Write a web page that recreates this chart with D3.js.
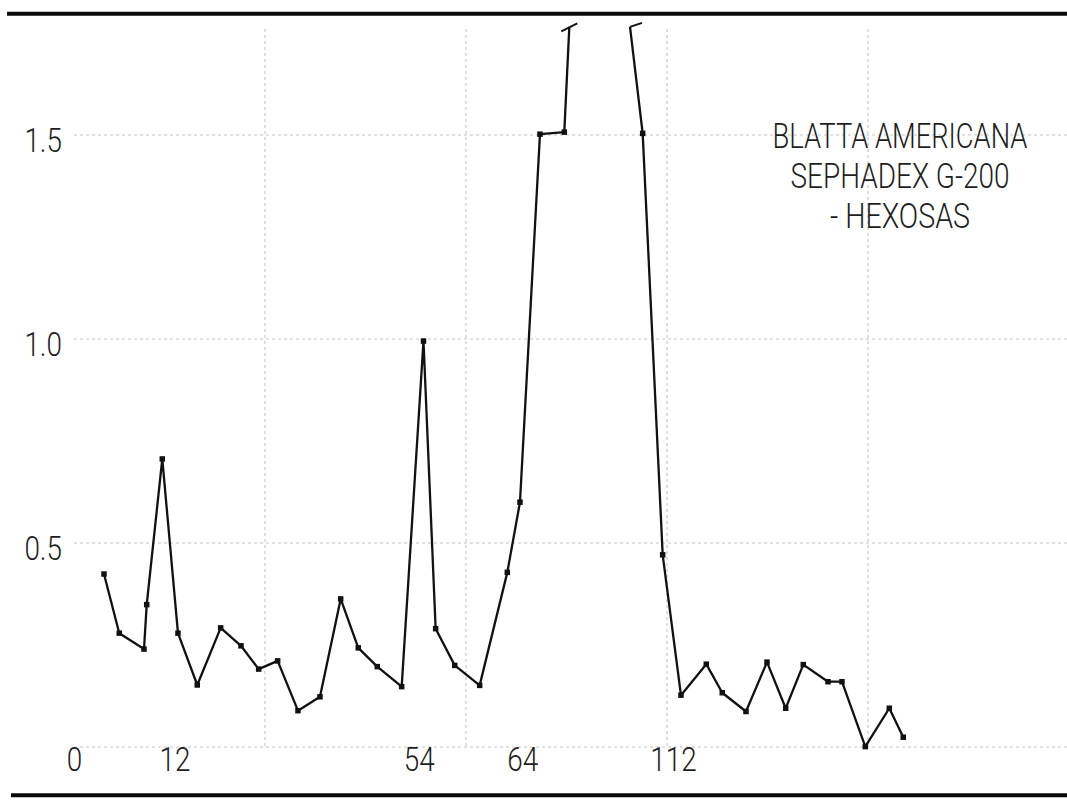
<!DOCTYPE html>
<html>
<head>
<meta charset="utf-8">
<script src="https://cdn.jsdelivr.net/npm/d3@7"></script>
<style>
  html, body { margin: 0; padding: 0; background: #fff; }
  svg { display: block; }
  text { font-family: Roboto, "Liberation Sans", sans-serif; font-weight: 300; fill: #1e1e1e; }
</style>
</head>
<body>
<svg id="chart" width="1067" height="803"></svg>
<script>
// ---------- data ----------
// elution position (arbitrary units along the x axis)
const elution = [3.98, 5.50, 7.96, 8.23, 9.78, 11.34, 13.26, 15.59, 17.61, 19.37,
  21.26, 23.28, 25.47, 27.53, 29.28, 31.17, 33.60, 35.77, 36.98, 38.88,
  41.36, 44.11, 45.37, 47.36, 49.78, 50.28, 56.32, 57.58, 59.57, 61.39,
  63.91, 65.50, 67.86, 69.95, 71.81, 73.56, 76.02, 77.41, 79.73, 82.12, 83.51];
// hexoses absorbance
const hexosas = [0.424, 0.279, 0.240, 0.349, 0.706, 0.279, 0.152, 0.292, 0.248, 0.191,
  0.211, 0.089, 0.123, 0.363, 0.243, 0.197, 0.148, 0.995, 0.290, 0.200,
  0.151, 0.428, 0.600, 1.502, 1.507, 1.765, 1.765, 1.504, 0.471, 0.127,
  0.203, 0.133, 0.087, 0.208, 0.095, 0.202, 0.160, 0.160, 0.001, 0.095, 0.024];
// indices of the off-scale break ends (line interrupted between them)
const breakEnds = [25, 26];

const yTicks = [0.5, 1.0, 1.5];
const xTickPositions = [1.0, 11.0, 35.3, 45.6, 60.6];
const xTickLabels = ["0", "12", "54", "64", "112"];
const gridX = [20, 40, 60, 80];
const gridY = [0, 0.5, 1.0, 1.5];
const titleLines = ["BLATTA AMERICANA", "SEPHADEX G-200", "- HEXOSAS"];
const titleWidths = [255, 219, 140];

// ---------- layout ----------
const svg = d3.select("#chart");
const x = d3.scaleLinear().domain([0, 100]).range([64, 1069]);
const y = d3.scaleLinear().domain([0, 1.5]).range([747, 135]);
const squeeze = 0.82;
const fontFam = "Roboto, 'Liberation Sans', sans-serif";

const pts = elution.map((e, i) => ({ x: e, v: hexosas[i], i }));

// gridlines
const grid = svg.append("g").attr("stroke", "#c4c4c4").attr("stroke-width", 1.1)
  .attr("stroke-dasharray", "3,3").attr("fill", "none");
grid.selectAll("line.h").data(gridY).join("line").attr("class", "h")
  .attr("x1", x(1.0)).attr("x2", x(100)).attr("y1", d => y(d)).attr("y2", d => y(d));
grid.selectAll("line.v").data(gridX).join("line").attr("class", "v")
  .attr("x1", d => x(d)).attr("x2", d => x(d)).attr("y1", y(1.76)).attr("y2", y(0));

// frame lines (top & bottom)
const frame = svg.append("g").attr("stroke", "#0a0a0a").attr("stroke-width", 4);
frame.append("line").attr("x1", 7).attr("x2", 1067).attr("y1", y(1.797)).attr("y2", y(1.797));
frame.append("line").attr("x1", 11).attr("x2", 1067).attr("y1", y(-0.118)).attr("y2", y(-0.118));

// y axis labels
const yAxis = d3.axisLeft(y).tickValues(yTicks).tickFormat(d3.format(".1f")).tickSize(0).tickPadding(0);
const gy = svg.append("g").attr("transform", "translate(62,0)").call(yAxis);
gy.select(".domain").remove();
gy.attr("font-family", null).attr("font-size", null);
gy.selectAll("text").attr("x", 0).attr("dy", "0.49em").attr("transform", `scale(${squeeze},1)`)
  .style("font-size", "34px").style("font-family", fontFam).style("font-weight", 300).attr("fill", "#1e1e1e");

// x axis labels
const xAxis = d3.axisBottom(x).tickValues(xTickPositions)
  .tickFormat((d, i) => xTickLabels[i]).tickSize(0).tickPadding(0);
const gx = svg.append("g").attr("transform", `translate(0,${y(0)})`).call(xAxis);
gx.select(".domain").remove();
gx.attr("font-family", null).attr("font-size", null);
gx.selectAll("text").attr("y", 0).attr("dy", "0.72em").attr("transform", `scale(${squeeze},1)`)
  .style("font-size", "34px").style("font-family", fontFam).style("font-weight", 300).attr("fill", "#1e1e1e");

// series line (interrupted at the off-scale break)
const line = d3.line().x(d => x(d.x)).y(d => y(d.v));
const seg1 = pts.slice(0, breakEnds[0] + 1);
const seg2 = pts.slice(breakEnds[1]);
svg.selectAll("path.series").data([seg1, seg2]).join("path").attr("class", "series")
  .attr("d", line).attr("fill", "none").attr("stroke", "#111")
  .attr("stroke-width", 2.3).attr("stroke-linejoin", "round");

// break marks
const bl = pts[breakEnds[0]], br = pts[breakEnds[1]];
svg.append("line").attr("x1", x(bl.x) - 8).attr("y1", y(bl.v) + 4.5)
  .attr("x2", x(bl.x) + 8).attr("y2", y(bl.v) - 3.5)
  .attr("stroke", "#111").attr("stroke-width", 2);
svg.append("line").attr("x1", x(br.x)).attr("y1", y(br.v))
  .attr("x2", x(br.x) + 12).attr("y2", y(br.v) - 4)
  .attr("stroke", "#111").attr("stroke-width", 2);

// markers
const ms = 5.5;
svg.selectAll("rect.pt").data(pts.filter(d => !breakEnds.includes(d.i))).join("rect")
  .attr("class", "pt")
  .attr("x", d => x(d.x) - ms / 2).attr("y", d => y(d.v) - ms / 2)
  .attr("width", ms).attr("height", ms).attr("fill", "#111");

// annotation text (horizontally condensed to match the original lettering)
const notes = svg.selectAll("g.note").data(titleLines).join("g").attr("class", "note");
notes.append("text").attr("x", 0).attr("y", 0).attr("text-anchor", "middle")
  .style("font-size", "35px").text(d => d);
notes.attr("transform", function (d, i) {
  const w = this.querySelector("text").getComputedTextLength() || titleWidths[i];
  const sx = titleWidths[i] / w;
  return `translate(900,${148 + i * 40}) scale(${sx},1)`;
});
</script>
</body>
</html>
